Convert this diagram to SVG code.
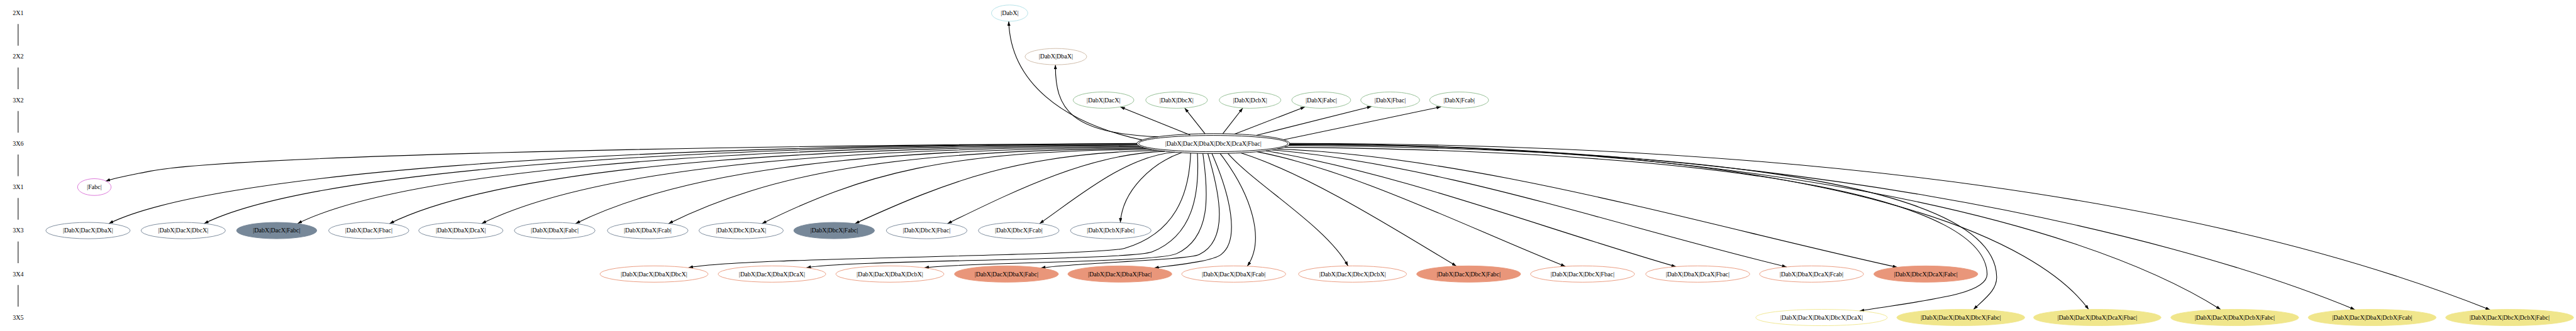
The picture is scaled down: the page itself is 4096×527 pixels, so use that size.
<svg xmlns="http://www.w3.org/2000/svg" width="4096" height="527" viewBox="0 0 4096 527">
<defs>
<marker id="ah" viewBox="0 0 10 7" refX="10" refY="3.5" markerWidth="10" markerHeight="7" markerUnits="userSpaceOnUse" orient="auto"><path d="M0,0L10,3.5L0,7z" fill="#000"/></marker>
</defs>
<style>
text{font-family:"Liberation Serif","Times New Roman",serif;font-size:14px;text-anchor:middle;fill:#000}
.e{fill:none;stroke:#000;stroke-width:1.5;marker-end:url(#ah)}
.rl{stroke:#000;stroke-width:1.4;fill:none}
ellipse{stroke-width:1.3;fill:none}
.c1{stroke:#b0e0e6}
.c2{stroke:#cdb9a5}
.c3{stroke:#8fbc8f}
.c0{stroke:#000}
.cf{stroke:#da70d6}
.s3{stroke:#778899}
.s3f{stroke:#778899;fill:#778899}
.s4{stroke:#e9967a}
.s4f{stroke:#e9967a;fill:#e9967a}
.s5{stroke:#f0e68c}
.s5f{stroke:#f0e68c;fill:#f0e68c}
</style>
<rect width="4096" height="527" fill="#fff"/>
<g transform="scale(0.7212)">
<g id="ranks">
<text x="40" y="33.5">2X1</text>
<text x="40" y="129.5">2X2</text>
<text x="40" y="225.5">3X2</text>
<text x="40" y="321.5">3X6</text>
<text x="40" y="417.5">3X1</text>
<text x="40" y="513.5">3X3</text>
<text x="40" y="609.5">3X4</text>
<text x="40" y="705.5">3X5</text>
<path class="rl" d="M40,53V101M40,149V197M40,245V293M40,341V389M40,437V485M40,533V581M40,629V677"/>
</g>
<g id="edges">
<path class="e" d="M2518,309C2340,270 2228,180 2224,47"/>
<path class="e" d="M2553,302C2360,295 2326,240 2327,143"/>
<path class="e" d="M2624,298L2470,236"/>
<path class="e" d="M2657,295.5L2612,238.6"/>
<path class="e" d="M2696,295.2L2740,238.5"/>
<path class="e" d="M2722,296L2877,236"/>
<path class="e" d="M2770,298.8L3024,235"/>
<path class="e" d="M2830,308.4L3177,235.8"/>
<path class="e" d="M2507,316.5C1500,322 500,345 330,378C285,387 255,392 233,400"/>
<path class="e" d="M2507,317.5C1306,319.5 460,385 240,493.5"/>
<path class="e" d="M2507,318.5C1417,320.5 670,385 450,493.5"/>
<path class="e" d="M2508,320C1526,322 876,385 656,493.5"/>
<path class="e" d="M2511,322C1635,324 1079,385 859,493.5"/>
<path class="e" d="M2515,324C1745,326 1282,385 1062,493.5"/>
<path class="e" d="M2521,326C1857,328 1489,385 1269,493.5"/>
<path class="e" d="M2529,328C1970,330 1694,385 1474,493.5"/>
<path class="e" d="M2539,330C2084,332 1900,385 1680,493.5"/>
<path class="e" d="M2552,332C2250,338 2090,400 1885,493.5"/>
<path class="e" d="M2568,334C2400,340 2240,420 2089,493.5"/>
<path class="e" d="M2590,336C2480,345 2370,440 2292,493.5"/>
<path class="e" d="M2605,337C2540,360 2475,420 2470,491.5"/>
<path class="e" d="M2625,338C2622,430 2590,515 2480,548C2420,566 1620,568 1518,591.2"/>
<path class="e" d="M2640,338.5C2645,430 2630,520 2540,556C2490,575 1860,574 1778,591.2"/>
<path class="e" d="M2652,338.8C2665,430 2670,525 2594,560C2550,580 2120,579 2038,591.2"/>
<path class="e" d="M2663,339C2690,430 2710,530 2644,562C2620,574 2380,580 2295,591.5"/>
<path class="e" d="M2672,339C2712,430 2735,530 2692,562C2672,577 2600,584 2545,591.5"/>
<path class="e" d="M2690,338.9C2760,430 2790,530 2750,587.6"/>
<path class="e" d="M2707,338.6C2767,407 2927,502 2972,587.1"/>
<path class="e" d="M2736,337.5C2886,385.5 3081,509.5 3211,587.5"/>
<path class="e" d="M2772,335C2992,379 3231,500 3451,588"/>
<path class="e" d="M2791,333C3091,384 3395,501.7 3695,588.7"/>
<path class="e" d="M2805,331C3180,363.6 3569,500 3939,589.2"/>
<path class="e" d="M2816,329C3250,345 3763,498 4183,590"/>
<path class="e" d="M2832,325C3900,335 4378,450 4381,605C4382,650 4250,662 4100,686.4"/>
<path class="e" d="M2840.7,321C3950,330 4398,440 4402,610C4404,640 4375,660 4351,683.3"/>
<path class="e" d="M2842,319.5C4100,318 4500,540 4605,683.2"/>
<path class="e" d="M2843,318.5C3800,318 4560,470 4896,683.2"/>
<path class="e" d="M2843,317.5C3900,318 4750,500 5192,683.5"/>
<path class="e" d="M2843,316.5C4000,318 4890,444 5490,684"/>
</g>
<g id="n_DabX"><ellipse class="c1" cx="2226" cy="29" rx="40" ry="18"/><text x="2226" y="33.5">|DabX|</text></g>
<g id="n_DabX_DbaX"><ellipse class="c2" cx="2328" cy="125" rx="68" ry="18"/><text x="2328" y="129.5">|DabX|DbaX|</text></g>
<g id="n_DabX_DacX"><ellipse class="c3" cx="2433" cy="221" rx="67" ry="18"/><text x="2433" y="225.5">|DabX|DacX|</text></g>
<g id="n_DabX_DbcX"><ellipse class="c3" cx="2594" cy="221" rx="68" ry="18"/><text x="2594" y="225.5">|DabX|DbcX|</text></g>
<g id="n_DabX_DcbX"><ellipse class="c3" cx="2756" cy="221" rx="68" ry="18"/><text x="2756" y="225.5">|DabX|DcbX|</text></g>
<g id="n_DabX_Fabc"><ellipse class="c3" cx="2913" cy="221" rx="65" ry="18"/><text x="2913" y="225.5">|DabX|Fabc|</text></g>
<g id="n_DabX_Fbac"><ellipse class="c3" cx="3065" cy="221" rx="65" ry="18"/><text x="3065" y="225.5">|DabX|Fbac|</text></g>
<g id="n_DabX_Fcab"><ellipse class="c3" cx="3217" cy="221" rx="65" ry="18"/><text x="3217" y="225.5">|DabX|Fcab|</text></g>
<g id="n_center"><ellipse class="c0" cx="2675" cy="317" rx="168.5" ry="22"/><ellipse class="c0" cx="2675" cy="317" rx="164.5" ry="18"/><text x="2675" y="321.5">|DabX|DacX|DbaX|DbcX|DcaX|Fbac|</text></g>
<g id="n_Fabc"><ellipse class="cf" cx="208" cy="413" rx="37" ry="18.5"/><text x="208" y="417.5">|Fabc|</text></g>
<g id="r3_1"><ellipse class="s3" cx="194" cy="509" rx="93" ry="18"/><text x="194" y="513.5">|DabX|DacX|DbaX|</text></g>
<g id="r3_2"><ellipse class="s3" cx="404" cy="509" rx="93" ry="18"/><text x="404" y="513.5">|DabX|DacX|DbcX|</text></g>
<g id="r3_3"><ellipse class="s3f" cx="610" cy="509" rx="88.5" ry="18"/><text x="610" y="513.5">|DabX|DacX|Fabc|</text></g>
<g id="r3_4"><ellipse class="s3" cx="813" cy="509" rx="88.5" ry="18"/><text x="813" y="513.5">|DabX|DacX|Fbac|</text></g>
<g id="r3_5"><ellipse class="s3" cx="1016" cy="509" rx="93" ry="18"/><text x="1016" y="513.5">|DabX|DbaX|DcaX|</text></g>
<g id="r3_6"><ellipse class="s3" cx="1223" cy="509" rx="89" ry="18"/><text x="1223" y="513.5">|DabX|DbaX|Fabc|</text></g>
<g id="r3_7"><ellipse class="s3" cx="1428" cy="509" rx="89" ry="18"/><text x="1428" y="513.5">|DabX|DbaX|Fcab|</text></g>
<g id="r3_8"><ellipse class="s3" cx="1634" cy="509" rx="93" ry="18"/><text x="1634" y="513.5">|DabX|DbcX|DcaX|</text></g>
<g id="r3_9"><ellipse class="s3f" cx="1839" cy="509" rx="89" ry="18"/><text x="1839" y="513.5">|DabX|DbcX|Fabc|</text></g>
<g id="r3_10"><ellipse class="s3" cx="2043" cy="509" rx="89" ry="18"/><text x="2043" y="513.5">|DabX|DbcX|Fbac|</text></g>
<g id="r3_11"><ellipse class="s3" cx="2246" cy="509" rx="89" ry="18"/><text x="2246" y="513.5">|DabX|DbcX|Fcab|</text></g>
<g id="r3_12"><ellipse class="s3" cx="2449" cy="509" rx="89" ry="18"/><text x="2449" y="513.5">|DabX|DcbX|Fabc|</text></g>
<g id="r4_1"><ellipse class="s4" cx="1442" cy="605" rx="119" ry="18"/><text x="1442" y="609.5">|DabX|DacX|DbaX|DbcX|</text></g>
<g id="r4_2"><ellipse class="s4" cx="1702" cy="605" rx="118.5" ry="18"/><text x="1702" y="609.5">|DabX|DacX|DbaX|DcaX|</text></g>
<g id="r4_3"><ellipse class="s4" cx="1962" cy="605" rx="119" ry="18"/><text x="1962" y="609.5">|DabX|DacX|DbaX|DcbX|</text></g>
<g id="r4_4"><ellipse class="s4f" cx="2219" cy="605" rx="114.5" ry="18"/><text x="2219" y="609.5">|DabX|DacX|DbaX|Fabc|</text></g>
<g id="r4_5"><ellipse class="s4f" cx="2469" cy="605" rx="114.5" ry="18"/><text x="2469" y="609.5">|DabX|DacX|DbaX|Fbac|</text></g>
<g id="r4_6"><ellipse class="s4" cx="2720" cy="605" rx="114.5" ry="18"/><text x="2720" y="609.5">|DabX|DacX|DbaX|Fcab|</text></g>
<g id="r4_7"><ellipse class="s4" cx="2982" cy="605" rx="119" ry="18"/><text x="2982" y="609.5">|DabX|DacX|DbcX|DcbX|</text></g>
<g id="r4_8"><ellipse class="s4f" cx="3238" cy="605" rx="114.5" ry="18"/><text x="3238" y="609.5">|DabX|DacX|DbcX|Fabc|</text></g>
<g id="r4_9"><ellipse class="s4" cx="3489" cy="605" rx="114.5" ry="18"/><text x="3489" y="609.5">|DabX|DacX|DbcX|Fbac|</text></g>
<g id="r4_10"><ellipse class="s4" cx="3743" cy="605" rx="114.5" ry="18"/><text x="3743" y="609.5">|DabX|DbaX|DcaX|Fbac|</text></g>
<g id="r4_11"><ellipse class="s4" cx="3994" cy="605" rx="114.5" ry="18"/><text x="3994" y="609.5">|DabX|DbaX|DcaX|Fcab|</text></g>
<g id="r4_12"><ellipse class="s4f" cx="4246" cy="605" rx="114.5" ry="18"/><text x="4246" y="609.5">|DabX|DbcX|DcaX|Fabc|</text></g>
<g id="r5_1"><ellipse class="s5" cx="4016" cy="701" rx="145" ry="18"/><text x="4016" y="705.5">|DabX|DacX|DbaX|DbcX|DcaX|</text></g>
<g id="r5_2"><ellipse class="s5f" cx="4323" cy="701" rx="141" ry="18"/><text x="4323" y="705.5">|DabX|DacX|DbaX|DbcX|Fabc|</text></g>
<g id="r5_3"><ellipse class="s5f" cx="4624" cy="701" rx="140.5" ry="18"/><text x="4624" y="705.5">|DabX|DacX|DbaX|DcaX|Fbac|</text></g>
<g id="r5_4"><ellipse class="s5f" cx="4927" cy="701" rx="141" ry="18"/><text x="4927" y="705.5">|DabX|DacX|DbaX|DcbX|Fabc|</text></g>
<g id="r5_5"><ellipse class="s5f" cx="5230" cy="701" rx="141" ry="18"/><text x="5230" y="705.5">|DabX|DacX|DbaX|DcbX|Fcab|</text></g>
<g id="r5_6"><ellipse class="s5f" cx="5533" cy="701" rx="141" ry="18"/><text x="5533" y="705.5">|DabX|DacX|DbcX|DcbX|Fabc|</text></g>
</g>
</svg>
